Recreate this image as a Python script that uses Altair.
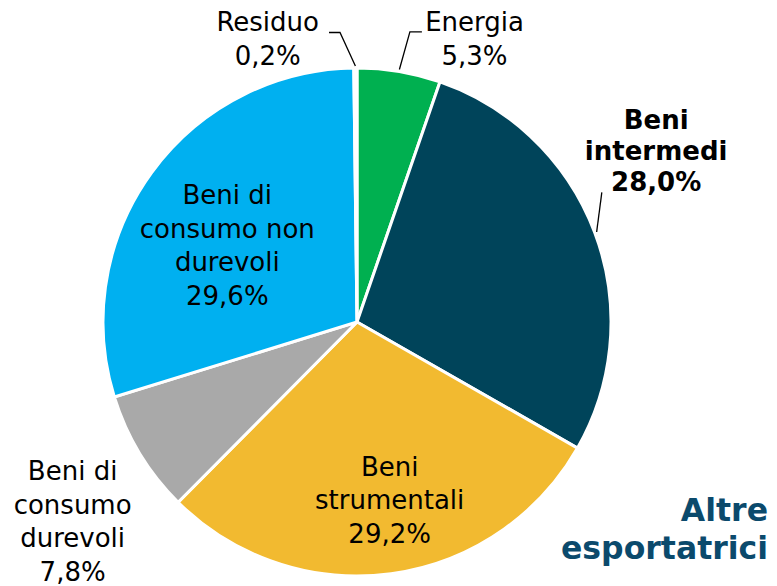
import math
import altair as alt
import pandas as pd

# ---- data ----
categories = ["Energia", "Beni intermedi", "Beni strumentali",
              "Beni di consumo durevoli", "Beni di consumo non durevoli", "Residuo"]
values = [5.3, 28.0, 29.2, 7.8, 29.6, 0.2]
label_texts = ["Energia\n5,3%", "Beni\nintermedi\n28,0%", "Beni\nstrumentali\n29,2%",
               "Beni di\nconsumo\ndurevoli\n7,8%", "Beni di\nconsumo non\ndurevoli\n29,6%",
               "Residuo\n0,2%"]
colors = ["#00b050", "#00445a", "#f2ba30", "#a9a9a9", "#00b0f0", "#ffffff"]
title_lines = "Altre\nesportatrici"

# ---- layout ----
CX, CY, R = 349, 314, 254
LH = 33.5
LH_BOLD = 31
# per-label: (angle nudge deg, radius px)
label_layout = {
    "Energia": (13.1, 305.5),
    "Beni intermedi": (-9.0, 344),
    "Beni strumentali": (-2.6, 182),
    "Beni di consumo durevoli": (-4.0, 348),
    "Beni di consumo non durevoli": (-5.9, 150),
    "Residuo": (-17.2, 296),
}
# leader lines: (angle nudge of elbow, elbow radius, horizontal tail px)
leader_layout = {
    "Energia": (0.8, 295, 12),
    "Beni intermedi": (-7.3, 277, 0),
    "Residuo": (-3.0, 290, -11),
}

total = sum(values)
cum = 0
mids = []
for v in values:
    mids.append((cum + v / 2) / total * 360)
    cum += v

def polar(a_deg, r):
    a = math.radians(a_deg)
    return CX + r * math.sin(a), CY - r * math.cos(a)

df = pd.DataFrame({"cat": categories, "val": values, "idx": range(len(values)),
                   "label": label_texts, "mid": mids})
lx, ly = [], []
for c, m, t in zip(categories, mids, label_texts):
    da, rr = label_layout[c]
    x, y = polar(m + da, rr)
    n = t.count("\n")
    lh = LH_BOLD if c == "Beni intermedi" else LH
    lx.append(x); ly.append(y - n * lh / 2)
df["lx"] = lx
df["ly"] = ly

rows = []
for c, m in zip(categories, mids):
    if c not in leader_layout:
        continue
    da, r2, tail = leader_layout[c]
    p1 = polar(m, R + 2)
    p2 = polar(m + da, r2)
    pts = [p1, p2]
    if tail:
        pts.append((p2[0] + tail, p2[1]))
    for k, (x, y) in enumerate(pts):
        rows.append({"cat": c, "k": k, "x": x, "y": y})
lines_df = pd.DataFrame(rows)

pie = alt.Chart(df).mark_arc(outerRadius=R, stroke="white", strokeWidth=3).encode(
    theta=alt.Theta("val:Q", stack=True),
    order=alt.Order("idx:Q"),
    color=alt.Color("cat:N", scale=alt.Scale(domain=categories, range=colors), legend=None),
    x=alt.value(CX), y=alt.value(CY),
)

base_text = alt.Chart(df).encode(
    x=alt.X("lx:Q", scale=None), y=alt.Y("ly:Q", scale=None), text="label:N")

labels = base_text.transform_filter(alt.datum.cat != "Beni intermedi").mark_text(
    font="DejaVu Sans", fontSize=26, color="black", align="center", baseline="middle",
    lineBreak="\n", lineHeight=LH)
labels_bold = base_text.transform_filter(alt.datum.cat == "Beni intermedi").mark_text(
    font="DejaVu Sans", fontSize=26, fontWeight="bold", color="black", align="center",
    baseline="middle", lineBreak="\n", lineHeight=LH_BOLD)

leaders = alt.Chart(lines_df).mark_line(color="black", strokeWidth=1.3).encode(
    x=alt.X("x:Q", scale=None), y=alt.Y("y:Q", scale=None),
    detail="cat:N", order="k:Q")

title = alt.Chart(pd.DataFrame({"t": [title_lines]})).mark_text(
    font="DejaVu Sans", fontSize=31.5, fontWeight="bold", color="#0b4a6c", align="right",
    baseline="middle", lineBreak="\n", lineHeight=38).encode(
    x=alt.value(760), y=alt.value(504), text="t:N")

chart = alt.layer(pie, leaders, labels, labels_bold, title).properties(
    width=761, height=578, padding=0, autosize="none"
).configure_view(stroke=None)

chart.save("out.html", embed_options={"renderer": "svg", "actions": False})
